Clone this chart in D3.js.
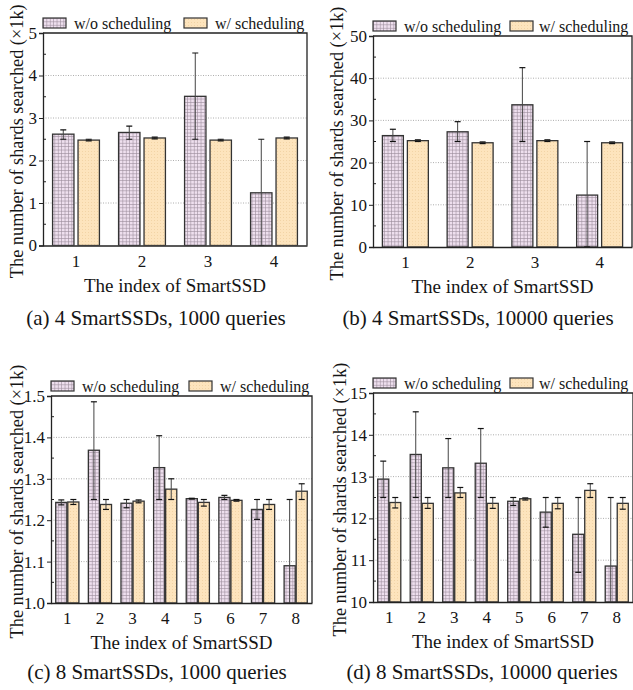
<!DOCTYPE html>
<html lang="en">
<head>
  <meta charset="UTF-8" />
  <title>Shards searched per SmartSSD</title>
  <script src="https://d3js.org/d3.v7.min.js"></script>
  <style>
    body {
      margin: 0;
      padding: 0;
      background: #fff;
    }
    svg text {
      font-family: "Liberation Serif", "Times New Roman", serif;
      fill: #151515;
    }
  </style>
</head>
<body>
<div id="chart"></div>

<script>
  // Categories / series
  const ssd4 = ["1", "2", "3", "4"];
  const ssd8 = ["1", "2", "3", "4", "5", "6", "7", "8"];
  const seriesNames = ["w/o scheduling", "w/ scheduling"];

  // (a) 4 SmartSSDs, 1000 queries
  const aWoMean = [2.62, 2.66, 3.51, 1.24];
  const aWoLow  = [2.50, 2.50, 2.50, 0.00];
  const aWoHigh = [2.72, 2.81, 4.53, 2.50];
  const aWMean  = [2.48, 2.53, 2.48, 2.53];
  const aWLow   = [2.46, 2.51, 2.46, 2.51];
  const aWHigh  = [2.50, 2.55, 2.50, 2.55];

  // (b) 4 SmartSSDs, 10000 queries
  const bWoMean = [26.4, 27.3, 33.7, 12.3];
  const bWoLow  = [25.0, 25.0, 25.0, 0.0];
  const bWoHigh = [27.9, 29.7, 42.5, 25.0];
  const bWMean  = [25.2, 24.7, 25.2, 24.7];
  const bWLow   = [25.0, 24.5, 25.0, 24.5];
  const bWHigh  = [25.4, 24.9, 25.4, 24.9];

  // (c) 8 SmartSSDs, 1000 queries
  const cWoMean = [1.243, 1.369, 1.241, 1.327, 1.252, 1.255, 1.226, 1.090];
  const cWoLow  = [1.237, 1.250, 1.230, 1.250, 1.251, 1.250, 1.202, 0.930];
  const cWoHigh = [1.249, 1.486, 1.250, 1.404, 1.253, 1.260, 1.250, 1.250];
  const cWMean  = [1.244, 1.238, 1.246, 1.275, 1.243, 1.248, 1.238, 1.270];
  const cWLow   = [1.238, 1.226, 1.242, 1.250, 1.234, 1.246, 1.226, 1.250];
  const cWHigh  = [1.250, 1.250, 1.249, 1.300, 1.250, 1.250, 1.250, 1.288];

  // (d) 8 SmartSSDs, 10000 queries
  const dWoMean = [12.94, 13.53, 13.21, 13.32, 12.41, 12.15, 11.62, 10.86];
  const dWoLow  = [12.50, 12.50, 12.50, 12.50, 12.31, 11.79, 10.71, 9.20];
  const dWoHigh = [13.37, 14.55, 13.91, 14.15, 12.50, 12.50, 12.50, 12.50];
  const dWMean  = [12.38, 12.36, 12.61, 12.36, 12.47, 12.36, 12.67, 12.36];
  const dWLow   = [12.25, 12.24, 12.50, 12.24, 12.44, 12.23, 12.50, 12.22];
  const dWHigh  = [12.50, 12.50, 12.74, 12.50, 12.49, 12.50, 12.83, 12.50];

  // y-axis tick labels per panel
  const aTicks = ["0", "1", "2", "3", "4", "5"];
  const bTicks = ["0", "10", "20", "30", "40", "50"];
  const cTicks = ["1.0", "1.1", "1.2", "1.3", "1.4", "1.5"];
  const dTicks = ["10", "11", "12", "13", "14", "15"];

  const captions = [
    "(a) 4 SmartSSDs, 1000 queries",
    "(b) 4 SmartSSDs, 10000 queries",
    "(c) 8 SmartSSDs, 1000 queries",
    "(d) 8 SmartSSDs, 10000 queries"
  ];

  const width = 633, height = 690;

  const svg = d3.select("#chart").append("svg")
    .attr("width", width)
    .attr("height", height);

  const defs = svg.append("defs");

  // grid pattern for "w/o scheduling"
  const gridPat = defs.append("pattern")
    .attr("id", "gridPat")
    .attr("patternUnits", "userSpaceOnUse")
    .attr("width", 3.4).attr("height", 3.4);
  gridPat.append("rect").attr("width", 3.4).attr("height", 3.4).attr("fill", "#eedfee");
  gridPat.append("path")
    .attr("d", "M0,0.3H3.4M0.3,0V3.4")
    .attr("stroke", "#9c8c9c").attr("stroke-width", 0.7);

  // dotted pattern for "w/ scheduling"
  const dotPat = defs.append("pattern")
    .attr("id", "dotPat")
    .attr("patternUnits", "userSpaceOnUse")
    .attr("width", 3).attr("height", 3);
  dotPat.append("rect").attr("width", 3).attr("height", 3).attr("fill", "#fde4bd");
  dotPat.append("circle").attr("cx", 1.5).attr("cy", 1.5).attr("r", 0.5).attr("fill", "#efcf9f");

  const fills = ["url(#gridPat)", "url(#dotPat)"];

  const panels = [
    { cats: ssd4, ticks: aTicks, domain: [0, 5],
      mean: [aWoMean, aWMean], low: [aWoLow, aWLow], high: [aWoHigh, aWHigh],
      left: 43, right: 307, top: 33, bottom: 245.5, titleX: 23, capX: 156, capY: 325, legX2: 141, legGap: 31 },
    { cats: ssd4, ticks: bTicks, domain: [0, 50],
      mean: [bWoMean, bWMean], low: [bWoLow, bWLow], high: [bWoHigh, bWHigh],
      left: 373, right: 632, top: 36, bottom: 247, titleX: 343, capX: 478, capY: 325, legX2: 137, legGap: 29 },
    { cats: ssd8, ticks: cTicks, domain: [1.0, 1.5],
      mean: [cWoMean, cWMean], low: [cWoLow, cWLow], high: [cWoHigh, cWHigh],
      left: 51, right: 312, top: 396, bottom: 603, titleX: 23, capX: 157, capY: 679, legX2: 138, legGap: 31 },
    { cats: ssd8, ticks: dTicks, domain: [10, 15],
      mean: [dWoMean, dWMean], low: [dWoLow, dWLow], high: [dWoHigh, dWHigh],
      left: 373, right: 633, top: 393, bottom: 602, titleX: 346, capX: 482, capY: 679, legX2: 137, legGap: 29 }
  ];

  panels.forEach((p, pi) => {
    const g = svg.append("g");

    const x0 = d3.scaleBand()
      .domain(p.cats)
      .range([p.left, p.right])
      .paddingInner(0.29)
      .paddingOuter(0.145);

    const x1 = d3.scaleBand()
      .domain(seriesNames)
      .range([0, x0.bandwidth()])
      .paddingInner(p.cats.length > 4 ? 0.08 : 0.16);

    const y = d3.scaleLinear().domain(p.domain).range([p.bottom, p.top]);
    const tickVals = y.ticks(5);
    const minorVals = d3.range(p.domain[0], p.domain[1], (tickVals[1] - tickVals[0]) / 2)
      .filter((v, i) => i % 2 === 1);

    // dotted gridlines
    g.append("g").selectAll("line")
      .data(tickVals.slice(1, -1))
      .join("line")
      .attr("x1", p.left).attr("x2", p.right)
      .attr("y1", d => y(d)).attr("y2", d => y(d))
      .attr("stroke", "#999").attr("stroke-width", 0.8)
      .attr("stroke-dasharray", "1,1.5");

    // clip the plot area
    const clipId = "clip" + pi;
    defs.append("clipPath").attr("id", clipId)
      .append("rect")
      .attr("x", p.left).attr("y", p.top)
      .attr("width", p.right - p.left).attr("height", p.bottom - p.top);

    const plot = g.append("g").attr("clip-path", `url(#${clipId})`);

    // rows of data: one per category per series
    const rows = [];
    p.cats.forEach((c, i) => {
      seriesNames.forEach((s, si) => {
        rows.push({ cat: c, s: s, si: si, v: p.mean[si][i], lo: p.low[si][i], hi: p.high[si][i] });
      });
    });

    plot.selectAll("rect.bar")
      .data(rows)
      .join("rect")
      .attr("class", "bar")
      .attr("x", d => x0(d.cat) + x1(d.s))
      .attr("width", x1.bandwidth())
      .attr("y", d => y(d.v))
      .attr("height", d => y(p.domain[0]) - y(d.v))
      .attr("fill", d => fills[d.si])
      .attr("stroke", "#333")
      .attr("stroke-width", 1.3);

    // error bars
    const capW = 3;
    const err = plot.selectAll("g.err")
      .data(rows)
      .join("g")
      .attr("class", "err")
      .attr("transform", d => `translate(${x0(d.cat) + x1(d.s) + x1.bandwidth() / 2},0)`);
    err.append("line")
      .attr("y1", d => y(d.lo)).attr("y2", d => y(d.hi))
      .attr("stroke", "#444").attr("stroke-width", 1);
    err.append("line")
      .attr("x1", -capW).attr("x2", capW)
      .attr("y1", d => y(d.hi)).attr("y2", d => y(d.hi))
      .attr("stroke", "#111").attr("stroke-width", 1.2);
    err.append("line")
      .attr("x1", -capW).attr("x2", capW)
      .attr("y1", d => y(d.lo)).attr("y2", d => y(d.lo))
      .attr("stroke", "#111").attr("stroke-width", 1.2);

    // frame: top and right
    g.append("path")
      .attr("d", `M${p.left},${p.top}H${p.right}V${p.bottom}`)
      .attr("fill", "none").attr("stroke", "#222").attr("stroke-width", 1.3);

    // y axis
    const yAxis = g.append("g")
      .attr("transform", `translate(${p.left},0)`)
      .call(d3.axisLeft(y).tickValues(tickVals).tickSize(4).tickPadding(2)
        .tickFormat((d, i) => p.ticks[i]));
    yAxis.select(".domain").attr("stroke", "#222").attr("stroke-width", 1.3);
    yAxis.selectAll(".tick line").attr("stroke", "#222");
    yAxis.selectAll(".tick text")
      .style("font-family", "'Liberation Serif', serif")
      .style("font-size", "17px").attr("fill", "#151515");
    yAxis.append("g").selectAll("line")
      .data(minorVals)
      .join("line")
      .attr("x1", 0).attr("x2", 3)
      .attr("y1", d => y(d)).attr("y2", d => y(d))
      .attr("stroke", "#222");

    // x axis (labels only)
    const xAxis = g.append("g")
      .attr("transform", `translate(0,${p.bottom})`)
      .call(d3.axisBottom(x0).tickSize(0).tickPadding(9));
    xAxis.select(".domain").attr("stroke", "#222").attr("stroke-width", 1.3);
    xAxis.selectAll(".tick text")
      .style("font-family", "'Liberation Serif', serif")
      .style("font-size", "17px").attr("fill", "#151515");

    // axis titles
    g.append("text")
      .attr("x", (p.left + p.right) / 2)
      .attr("y", p.bottom + 46)
      .attr("text-anchor", "middle")
      .style("font-size", "19px")
      .text("The index of SmartSSD");

    g.append("text")
      .attr("transform", `translate(${p.titleX},${(p.top + p.bottom) / 2 + 2}) rotate(-90)`)
      .attr("text-anchor", "middle")
      .style("font-size", "18.3px")
      .text("The number of shards searched (\u00d71k)");

    // legend above plot
    const leg = g.append("g").attr("transform", `translate(${p.left},${p.top - 15})`);
    const legX = [0, p.legX2];
    seriesNames.forEach((s, si) => {
      leg.append("rect")
        .attr("x", legX[si]).attr("y", 0)
        .attr("width", 23).attr("height", 10)
        .attr("fill", fills[si])
        .attr("stroke", "#333").attr("stroke-width", 1.2);
      leg.append("text")
        .attr("x", legX[si] + (si === 0 ? 31 : p.legGap)).attr("y", 10.5)
        .style("font-size", "16px")
        .text(s);
    });

    // caption
    g.append("text")
      .attr("x", p.capX).attr("y", p.capY)
      .attr("text-anchor", "middle")
      .style("font-size", "21px")
      .text(captions[pi]);
  });
</script>
</body>
</html>
